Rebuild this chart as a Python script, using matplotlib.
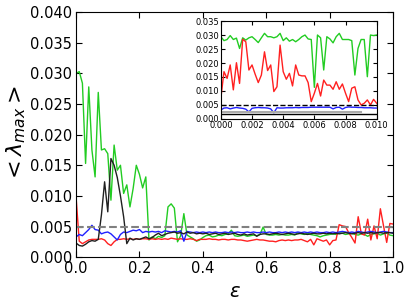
import numpy as np
import matplotlib
matplotlib.use('Agg')
import matplotlib.pyplot as plt
from matplotlib.ticker import FormatStrFormatter

# main panel: epsilon from 0 to 1, step 0.01
eps = np.round(np.arange(0, 101) * 0.01, 2)

green = [0.0300, 0.0303, 0.0284, 0.0153, 0.0278, 0.0175, 0.0131, 0.0269, 0.0175, 0.0177,
         0.0169, 0.0093, 0.0183, 0.0142, 0.0150, 0.0104, 0.0118, 0.0082, 0.0112, 0.0150,
         0.0135, 0.0113, 0.0131, 0.0028, 0.0033, 0.0030, 0.0034, 0.0032, 0.0035, 0.0082,
         0.0087, 0.0080, 0.0025, 0.0035, 0.0071, 0.0036, 0.0033, 0.0030, 0.0026, 0.0028,
         0.0032, 0.0035, 0.0036, 0.0033, 0.0034, 0.0036, 0.0035, 0.0037, 0.0038, 0.0044,
         0.0035, 0.0034, 0.0035, 0.0036, 0.0034, 0.0035, 0.0036, 0.0035, 0.0037, 0.0049,
         0.0037, 0.0036, 0.0036, 0.0037, 0.0036, 0.0037, 0.0036, 0.0036, 0.0037, 0.0036,
         0.0040, 0.0038, 0.0037, 0.0039, 0.0037, 0.0036, 0.0035, 0.0033, 0.0035, 0.0036,
         0.0037, 0.0038, 0.0037, 0.0040, 0.0039, 0.0037, 0.0038, 0.0039, 0.0037, 0.0036,
         0.0038, 0.0037, 0.0034, 0.0037, 0.0038, 0.0039, 0.0036, 0.0038, 0.0039, 0.0036,
         0.0035]

red = [0.0098, 0.0026, 0.0022, 0.0025, 0.0028, 0.0029, 0.0029, 0.0029, 0.0030, 0.0028,
       0.0022, 0.0019, 0.0025, 0.0029, 0.0029, 0.0030, 0.0029, 0.0030, 0.0029, 0.0030,
       0.0029, 0.0030, 0.0030, 0.0029, 0.0030, 0.0029, 0.0030, 0.0029, 0.0030, 0.0029,
       0.0031, 0.0030, 0.0029, 0.0030, 0.0029, 0.0029, 0.0030, 0.0029, 0.0027, 0.0029,
       0.0029, 0.0029, 0.0030, 0.0029, 0.0029, 0.0028, 0.0029, 0.0029, 0.0028, 0.0029,
       0.0029, 0.0028, 0.0028, 0.0027, 0.0026, 0.0027, 0.0028, 0.0029, 0.0028, 0.0028,
       0.0027, 0.0026, 0.0026, 0.0025, 0.0027, 0.0028, 0.0027, 0.0028, 0.0027, 0.0028,
       0.0028, 0.0029, 0.0027, 0.0025, 0.0029, 0.0020, 0.0030, 0.0028, 0.0026, 0.0028,
       0.0020, 0.0027, 0.0028, 0.0053, 0.0051, 0.0050, 0.0040, 0.0032, 0.0023, 0.0066,
       0.0038, 0.0036, 0.0062, 0.0028, 0.0051, 0.0030, 0.0079, 0.0051, 0.0024, 0.0055,
       0.0054]

blue = [0.0033, 0.0037, 0.0035, 0.0040, 0.0045, 0.0052, 0.0045, 0.0044, 0.0038, 0.0040,
        0.0041, 0.0038, 0.0033, 0.0028, 0.0037, 0.0041, 0.0040, 0.0042, 0.0044, 0.0043,
        0.0045, 0.0040, 0.0042, 0.0041, 0.0042, 0.0041, 0.0042, 0.0040, 0.0043, 0.0042,
        0.0041, 0.0042, 0.0041, 0.0043, 0.0026, 0.0042, 0.0041, 0.0040, 0.0041, 0.0040,
        0.0041, 0.0040, 0.0041, 0.0040, 0.0041, 0.0040, 0.0040, 0.0041, 0.0040, 0.0041,
        0.0040, 0.0041, 0.0040, 0.0040, 0.0041, 0.0040, 0.0041, 0.0040, 0.0040, 0.0041,
        0.0040, 0.0041, 0.0040, 0.0040, 0.0041, 0.0040, 0.0041, 0.0040, 0.0041, 0.0040,
        0.0041, 0.0040, 0.0041, 0.0040, 0.0041, 0.0040, 0.0041, 0.0040, 0.0040, 0.0041,
        0.0040, 0.0041, 0.0040, 0.0041, 0.0042, 0.0041, 0.0040, 0.0041, 0.0040, 0.0042,
        0.0041, 0.0040, 0.0041, 0.0042, 0.0041, 0.0040, 0.0041, 0.0042, 0.0041, 0.0040,
        0.0040]

black = [0.0023, 0.0019, 0.0018, 0.0021, 0.0025, 0.0027, 0.0026, 0.0029, 0.0069, 0.0123,
         0.0074, 0.0161, 0.0150, 0.0130, 0.0100, 0.0066, 0.0022, 0.0031, 0.0028, 0.0030,
         0.0029, 0.0031, 0.0033, 0.0030, 0.0032, 0.0036, 0.0039, 0.0035, 0.0037, 0.0039,
         0.0040, 0.0041, 0.0039, 0.0040, 0.0038, 0.0041, 0.0039, 0.0040, 0.0038, 0.0039,
         0.0038, 0.0039, 0.0037, 0.0038, 0.0039, 0.0037, 0.0038, 0.0039, 0.0037, 0.0038,
         0.0039, 0.0037, 0.0036, 0.0038, 0.0036, 0.0037, 0.0038, 0.0034, 0.0037, 0.0038,
         0.0038, 0.0037, 0.0038, 0.0039, 0.0038, 0.0037, 0.0038, 0.0039, 0.0038, 0.0037,
         0.0038, 0.0039, 0.0038, 0.0037, 0.0038, 0.0039, 0.0038, 0.0038, 0.0039, 0.0038,
         0.0039, 0.0038, 0.0039, 0.0038, 0.0039, 0.0040, 0.0039, 0.0038, 0.0039, 0.0040,
         0.0039, 0.0040, 0.0039, 0.0040, 0.0039, 0.0040, 0.0040, 0.0039, 0.0040, 0.0040,
         0.0039]

# inset: epsilon from 0 to 0.01, step 0.0002
eps_in = np.arange(0, 51) * 0.0002

green_in = [0.0294, 0.0280, 0.0284, 0.0298, 0.0284, 0.0289, 0.0252, 0.0290, 0.0282, 0.0290,
            0.0294, 0.0284, 0.0273, 0.0290, 0.0306, 0.0294, 0.0294, 0.0290, 0.0294, 0.0306,
            0.0280, 0.0290, 0.0278, 0.0284, 0.0276, 0.0284, 0.0294, 0.0300, 0.0286, 0.0284,
            0.0113, 0.0300, 0.0290, 0.0175, 0.0294, 0.0286, 0.0272, 0.0294, 0.0306, 0.0284,
            0.0284, 0.0284, 0.0280, 0.0157, 0.0252, 0.0284, 0.0284, 0.0151, 0.0300, 0.0298,
            0.0300]

red_in = [0.0074, 0.0169, 0.0145, 0.0193, 0.0104, 0.0201, 0.0127, 0.0285, 0.0276, 0.0175,
          0.0193, 0.0160, 0.0130, 0.0157, 0.0240, 0.0173, 0.0193, 0.0098, 0.0115, 0.0264,
          0.0169, 0.0142, 0.0163, 0.0118, 0.0193, 0.0157, 0.0154, 0.0154, 0.0130, 0.0062,
          0.0092, 0.0127, 0.0082, 0.0139, 0.0121, 0.0121, 0.0106, 0.0133, 0.0106, 0.0125,
          0.0092, 0.0062, 0.0110, 0.0115, 0.0068, 0.0050, 0.0056, 0.0068, 0.0050, 0.0070,
          0.0056]

blue_in = [0.0032, 0.0039, 0.0040, 0.0036, 0.0039, 0.0041, 0.0039, 0.0038, 0.0035, 0.0025,
           0.0038, 0.0040, 0.0041, 0.0040, 0.0040, 0.0039, 0.0036, 0.0022, 0.0040, 0.0039,
           0.0039, 0.0040, 0.0040, 0.0040, 0.0041, 0.0040, 0.0041, 0.0041, 0.0041, 0.0042,
           0.0042, 0.0042, 0.0042, 0.0042, 0.0042, 0.0042, 0.0036, 0.0041, 0.0042, 0.0035,
           0.0041, 0.0043, 0.0042, 0.0042, 0.0041, 0.0041, 0.0040, 0.0040, 0.0040, 0.0039,
           0.0039]

grey_in = [0.0025] * 46
black_in = [0.0017] * 51

plt.rcParams['font.family'] = 'DejaVu Sans'
plt.rcParams['xtick.direction'] = 'in'
plt.rcParams['ytick.direction'] = 'in'
plt.rcParams['xtick.top'] = True
plt.rcParams['ytick.right'] = True
plt.rcParams['mathtext.fontset'] = 'dejavusans'

fig = plt.figure(figsize=(4.09, 3.05), dpi=100)
ax = fig.add_axes([0.186, 0.157, 0.775, 0.803])

ax.plot(eps, green, color='#22cc22', lw=1)
ax.plot(eps, red, color='#ff2020', lw=1)
ax.plot(eps, blue, color='#2020ff', lw=1)
ax.plot(eps, black, color='#202020', lw=1)
ax.axhline(0.005, color='grey', ls='--', lw=1.5)

ax.set_xlim(0, 1)
ax.set_ylim(0, 0.04)
ax.set_xticks(np.arange(0, 1.01, 0.2))
ax.set_yticks(np.arange(0, 0.0401, 0.005))
ax.yaxis.set_major_formatter(FormatStrFormatter('%.3f'))
ax.xaxis.set_major_formatter(FormatStrFormatter('%.1f'))
ax.tick_params(labelsize=10.5, length=4, pad=3)
ax.set_xlabel(r'$\epsilon$', fontsize=14)
ax.set_ylabel(r'$<\lambda_{max}>$', fontsize=16, labelpad=1)

# inset
axi = fig.add_axes([0.540, 0.610, 0.381, 0.321])
axi.plot(eps_in, green_in, color='#22cc22', lw=1)
axi.plot(eps_in, red_in, color='#ff2020', lw=1)
axi.plot(eps_in, blue_in, color='#2020ff', lw=1)
axi.plot(eps_in[:46], grey_in, color='#aaaaaa', lw=1.5)
axi.plot(eps_in, black_in, color='black', lw=1)
axi.axhline(0.005, color='black', ls='--', lw=1)
axi.set_xlim(0, 0.01)
axi.set_ylim(0, 0.035)
axi.set_xticks(np.arange(0, 0.01001, 0.002))
axi.set_yticks(np.arange(0, 0.03501, 0.005))
axi.xaxis.set_major_formatter(FormatStrFormatter('%.3f'))
axi.yaxis.set_major_formatter(FormatStrFormatter('%.3f'))
axi.tick_params(labelsize=6, length=3, pad=1.5)

fig.savefig('out.png', dpi=100)
